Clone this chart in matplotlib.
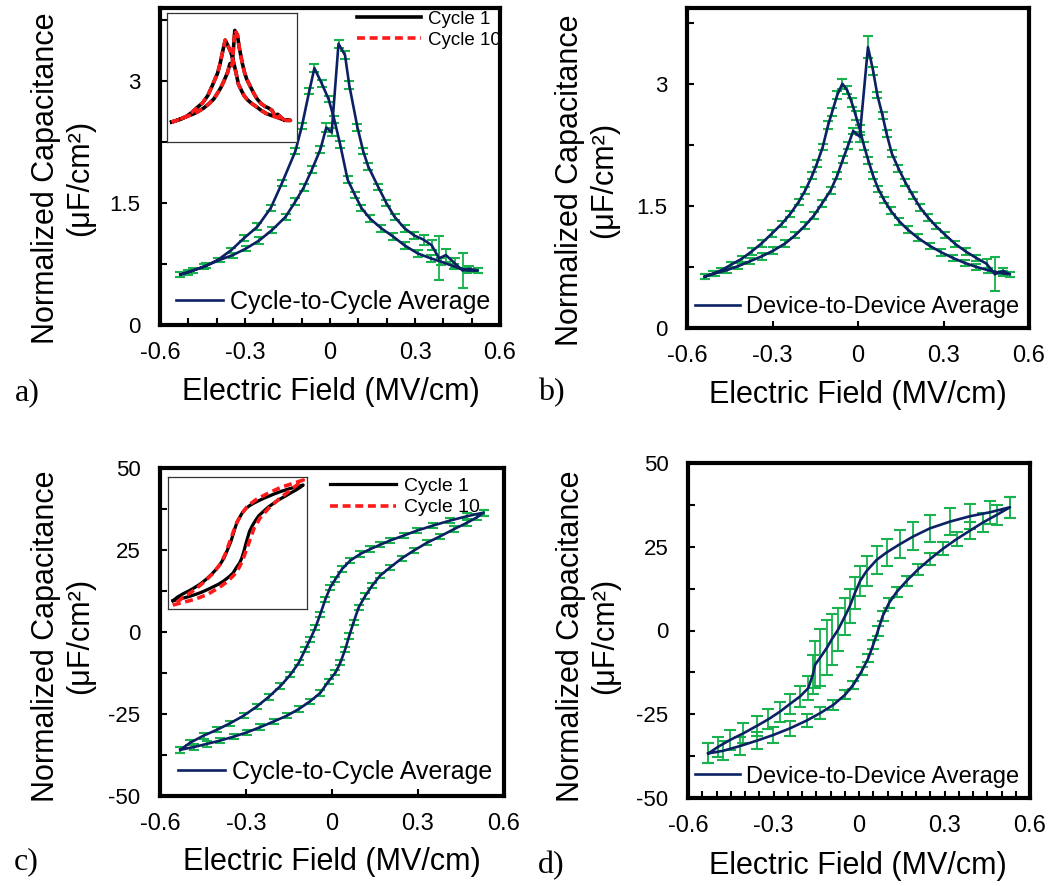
import matplotlib
matplotlib.use("Agg")
import matplotlib.pyplot as plt

plt.rcParams['font.family'] = ['Liberation Sans', 'DejaVu Sans']

# ---------------- data ----------------
# (a) cycle-to-cycle average, C-E butterfly (uF/cm^2)
a_fwd_E = [-0.528, -0.483, -0.437, -0.390, -0.343, -0.297, -0.250, -0.204, -0.157, -0.122,
           -0.093, -0.064, -0.034, -0.013, 0.006, 0.030, 0.053, 0.068, 0.097, 0.117,
           0.135, 0.170, 0.199, 0.228, 0.263, 0.298, 0.330, 0.359, 0.385, 0.409,
           0.440, 0.468, 0.491, 0.522]
a_fwd_C = [0.62, 0.67, 0.73, 0.80, 0.86, 0.94, 1.04, 1.17, 1.33, 1.52,
           1.69, 1.91, 2.16, 2.43, 2.37, 3.46, 3.32, 2.95, 2.43, 2.14,
           1.95, 1.70, 1.50, 1.33, 1.19, 1.10, 1.05, 0.98, 0.82, 0.86,
           0.76, 0.67, 0.69, 0.67]
a_fwd_err = [0.03, 0.03, 0.03, 0.03, 0.03, 0.03, 0.04, 0.04, 0.04, 0.04,
             0.04, 0.04, 0.04, 0.05, 0.05, 0.05, 0.05, 0.05, 0.04, 0.04,
             0.04, 0.04, 0.04, 0.04, 0.04, 0.04, 0.06, 0.06, 0.27, 0.08,
             0.06, 0.21, 0.04, 0.03]
a_rev_E = [0.522, 0.485, 0.438, 0.391, 0.356, 0.310, 0.263, 0.222, 0.181, 0.141,
           0.111, 0.088, 0.062, 0.036, 0.015, -0.005, -0.029, -0.055, -0.073, -0.099,
           -0.122, -0.169, -0.209, -0.256, -0.303, -0.349, -0.396, -0.443, -0.501, -0.528]
a_rev_C = [0.67, 0.67, 0.72, 0.78, 0.82, 0.88, 0.98, 1.09, 1.19, 1.31,
           1.44, 1.60, 1.79, 2.22, 2.53, 2.78, 2.97, 3.16, 2.88, 2.45,
           2.14, 1.75, 1.44, 1.21, 1.07, 0.92, 0.80, 0.72, 0.65, 0.62]
a_rev_err = [0.03, 0.03, 0.03, 0.04, 0.04, 0.04, 0.04, 0.04, 0.04, 0.04,
             0.04, 0.04, 0.04, 0.04, 0.04, 0.04, 0.04, 0.05, 0.04, 0.04,
             0.04, 0.04, 0.04, 0.04, 0.04, 0.03, 0.03, 0.03, 0.03, 0.03]

# (b) device-to-device average
b_fwd_E = [-0.538, -0.502, -0.461, -0.420, -0.379, -0.338, -0.297, -0.255, -0.220, -0.185,
           -0.155, -0.126, -0.096, -0.073, -0.053, -0.035, -0.017, 0.006, 0.035, 0.053,
           0.068, 0.086, 0.100, 0.119, 0.142, 0.166, 0.192, 0.218, 0.245, 0.274,
           0.307, 0.342, 0.378, 0.415, 0.451, 0.480, 0.509, 0.533]
b_fwd_C = [0.63, 0.67, 0.71, 0.76, 0.82, 0.88, 0.95, 1.04, 1.14, 1.26,
           1.38, 1.53, 1.69, 1.87, 2.07, 2.24, 2.42, 2.35, 3.45, 3.16,
           2.86, 2.61, 2.39, 2.14, 1.96, 1.79, 1.63, 1.48, 1.36, 1.25,
           1.14, 1.03, 0.94, 0.86, 0.79, 0.66, 0.70, 0.66]
b_fwd_err = [0.03, 0.03, 0.03, 0.04, 0.04, 0.04, 0.04, 0.04, 0.04, 0.04,
             0.04, 0.04, 0.04, 0.04, 0.04, 0.04, 0.04, 0.06, 0.13, 0.05,
             0.04, 0.04, 0.04, 0.04, 0.04, 0.04, 0.04, 0.04, 0.04, 0.04,
             0.04, 0.04, 0.04, 0.04, 0.06, 0.21, 0.04, 0.03]
b_rev_E = [0.533, 0.509, 0.456, 0.415, 0.374, 0.333, 0.292, 0.251, 0.209, 0.174,
           0.145, 0.115, 0.092, 0.071, 0.053, 0.036, 0.021, 0.007, -0.008, -0.022,
           -0.038, -0.055, -0.073, -0.091, -0.105, -0.124, -0.144, -0.161, -0.185, -0.208,
           -0.238, -0.267, -0.302, -0.338, -0.373, -0.408, -0.444, -0.479, -0.508, -0.538]
b_rev_C = [0.66, 0.67, 0.71, 0.75, 0.80, 0.86, 0.93, 1.01, 1.11, 1.21,
           1.31, 1.44, 1.57, 1.71, 1.87, 2.06, 2.24, 2.43, 2.61, 2.77,
           2.92, 3.00, 2.86, 2.65, 2.49, 2.22, 2.02, 1.87, 1.69, 1.55,
           1.40, 1.28, 1.16, 1.04, 0.94, 0.85, 0.78, 0.71, 0.67, 0.63]
b_rev_err = [0.03, 0.03, 0.03, 0.04, 0.04, 0.04, 0.04, 0.04, 0.04, 0.04,
             0.04, 0.04, 0.04, 0.04, 0.04, 0.04, 0.05, 0.06, 0.05, 0.05,
             0.05, 0.06, 0.05, 0.05, 0.05, 0.04, 0.04, 0.04, 0.04, 0.04,
             0.04, 0.04, 0.04, 0.04, 0.04, 0.04, 0.03, 0.03, 0.03, 0.03]

# (c) cycle-to-cycle average, hysteresis loop
c_fwd_E = [-0.529, -0.483, -0.436, -0.390, -0.343, -0.297, -0.250, -0.204, -0.157, -0.116,
           -0.076, -0.041, -0.012, 0.012, 0.029, 0.046, 0.060, 0.075, 0.093, 0.116,
           0.140, 0.168, 0.203, 0.244, 0.285, 0.331, 0.378, 0.424, 0.471, 0.506, 0.529]
c_fwd_C = [-35.9, -35.1, -34.1, -33.1, -31.9, -30.6, -29.0, -27.3, -25.5, -23.5,
           -21.1, -18.6, -15.0, -12.4, -9.4, -5.3, -1.2, 2.9, 7.5, 11.0,
           14.1, 17.2, 19.7, 22.5, 24.8, 27.2, 29.2, 31.3, 33.3, 35.0, 36.4]
c_fwd_err = [0.9, 0.9, 0.9, 0.8, 0.8, 0.8, 0.8, 0.8, 0.8, 0.8,
             0.8, 0.8, 0.8, 0.8, 0.8, 0.8, 0.8, 0.8, 0.8, 0.8,
             0.8, 0.8, 0.8, 0.8, 0.8, 0.8, 0.8, 0.9, 0.9, 0.9, 0.9]
c_rev_E = [0.529, 0.471, 0.413, 0.354, 0.296, 0.250, 0.203, 0.168, 0.134, 0.099,
           0.064, 0.035, 0.012, -0.006, -0.023, -0.041, -0.058, -0.076, -0.093, -0.116,
           -0.145, -0.180, -0.221, -0.262, -0.308, -0.355, -0.401, -0.448, -0.494, -0.529]
c_rev_C = [36.4, 35.3, 34.0, 32.5, 30.9, 29.4, 27.9, 26.6, 25.3, 23.8,
           21.8, 19.2, 16.1, 13.6, 10.0, 5.4, 1.3, -2.2, -5.3, -9.4,
           -13.0, -16.5, -19.8, -22.7, -25.5, -27.8, -29.8, -31.6, -33.7, -35.9]
c_rev_err = [0.9, 0.9, 0.9, 0.8, 0.8, 0.8, 0.8, 0.8, 0.8, 0.8,
             0.8, 0.8, 0.8, 0.8, 0.8, 0.8, 0.8, 0.8, 0.8, 0.8,
             0.8, 0.8, 0.8, 0.8, 0.8, 0.8, 0.8, 0.9, 0.9, 0.9]

# (c) inset, cycle 10 loop
c10_fwd_E = [-0.53, -0.45, -0.35, -0.25, -0.15, -0.08, -0.03, 0.01, 0.04, 0.07,
             0.10, 0.13, 0.18, 0.25, 0.33, 0.43, 0.53]
c10_fwd_C = [-38.6, -37.0, -35.0, -32.0, -27.5, -23.5, -19.5, -15.0, -10.0, -3.5,
             3.0, 9.5, 16.0, 22.0, 27.5, 33.5, 39.5]
c10_rev_E = [0.53, 0.45, 0.35, 0.25, 0.15, 0.08, 0.03, -0.01, -0.04, -0.07,
             -0.10, -0.14, -0.20, -0.28, -0.36, -0.45, -0.53]
c10_rev_C = [39.5, 37.5, 35.0, 31.5, 27.5, 23.5, 18.5, 13.0, 7.0, 0.5,
             -6.0, -12.5, -18.5, -24.5, -29.5, -34.0, -38.6]

# (d) device-to-device average
d_fwd_E = [-0.529, -0.476, -0.418, -0.359, -0.301, -0.242, -0.184, -0.137, -0.090, -0.049,
           -0.020, 0.009, 0.033, 0.050, 0.066, 0.083, 0.106, 0.132, 0.167, 0.208,
           0.249, 0.296, 0.343, 0.389, 0.436, 0.483, 0.530]
d_fwd_C = [-36.7, -35.9, -34.5, -32.9, -31.2, -29.2, -26.9, -24.7, -22.2, -19.2,
           -16.2, -12.2, -8.2, -4.2, -0.2, 4.3, 8.3, 11.5, 14.8, 18.3,
           21.3, 24.5, 27.3, 29.8, 32.3, 34.5, 36.8]
d_fwd_err = [3.0, 2.8, 2.6, 2.5, 2.4, 2.2, 2.0, 1.8, 1.5, 1.3,
             1.2, 1.2, 1.2, 1.3, 1.5, 1.5, 1.5, 1.5, 1.5, 1.6,
             1.8, 2.0, 2.2, 2.5, 2.8, 3.0, 3.2]
d_rev_E = [0.530, 0.460, 0.389, 0.319, 0.249, 0.191, 0.144, 0.097, 0.062, 0.027,
           0.004, -0.014, -0.032, -0.049, -0.073, -0.096, -0.113, -0.137, -0.154, -0.162,
           -0.178, -0.207, -0.242, -0.277, -0.318, -0.359, -0.406, -0.453, -0.494, -0.529]
d_rev_C = [36.8, 35.3, 34.1, 32.5, 30.5, 28.1, 25.8, 23.3, 21.1, 17.8,
           14.8, 11.3, 7.3, 4.3, 0.3, -2.7, -5.2, -8.2, -10.2, -13.2,
           -17.2, -19.7, -21.9, -24.2, -26.5, -28.5, -30.7, -32.7, -34.7, -36.7]
d_rev_err = [3.2, 3.5, 3.7, 4.0, 4.0, 4.2, 4.2, 4.0, 4.2, 4.4,
             4.5, 4.8, 5.0, 5.5, 6.3, 7.5, 8.2, 8.5, 7.0, 5.8,
             3.5, 3.0, 3.0, 3.0, 3.0, 3.0, 3.0, 3.0, 3.0, 3.0]

x_ticks = [-0.6, -0.3, 0, 0.3, 0.6]
x_ticklabels = ['-0.6', '-0.3', '0', '0.3', '0.6']
cap_ticks = [0, 1.5, 3]
cap_ticklabels = ['0', '1.5', '3']
pol_ticks = [-50, -25, 0, 25, 50]
pol_ticklabels = ['-50', '-25', '0', '25', '50']

NAVY = '#0B2163'
GREEN = '#19B24E'
YLABEL = 'Normalized Capacitance\n(\u03bcF/cm\u00b2)'
XLABEL = 'Electric Field (MV/cm)'

W, H = 1051, 886
fig = plt.figure(figsize=(W / 100, H / 100), dpi=100)


def box(l, t, r, b):
    return fig.add_axes([l / W, 1 - b / H, (r - l) / W, (b - t) / H])


def style(ax, ylim, yticks, yticklabels, yminor, xminor):
    ax.set_xlim(-0.6, 0.6)
    ax.set_ylim(*ylim)
    ax.set_xticks(x_ticks)
    ax.set_xticklabels(x_ticklabels, fontsize=17)
    ax.set_xticks(xminor, minor=True)
    ax.set_yticks(yticks)
    ax.set_yticklabels(yticklabels, fontsize=16)
    ax.set_yticks(yminor, minor=True)
    for s in ax.spines.values():
        s.set_linewidth(3.0)
        s.set_zorder(6)
    ax.tick_params(which='both', direction='in', length=5, width=1.5,
                   top=False, right=False)
    ax.tick_params(axis='x', which='major', pad=12)
    ax.tick_params(axis='y', which='major', pad=14)


def draw_loop(ax, E1, C1, e1, E2, C2, e2, label, capsize):
    for E, C, e in ((E1, C1, e1), (E2, C2, e2)):
        ax.errorbar(E, C, yerr=e, fmt='none', ecolor=GREEN, elinewidth=1.3,
                    capsize=capsize, capthick=1.5, zorder=2)
    ax.plot(E1 + E2, C1 + C2, color=NAVY, lw=1.9, zorder=3, label=label)


def avg_legend(ax, x0, yc, fs):
    ax.legend(loc='center left', bbox_to_anchor=(x0, yc), frameon=False,
              fontsize=fs, handlelength=1.9, handletextpad=0.25,
              borderpad=0, borderaxespad=0)


def cycle_legend(ax, handles, x0, yc, fs):
    leg = ax.legend(handles=handles, labels=['Cycle 1', 'Cycle 10'],
                    loc='center left', bbox_to_anchor=(x0, yc), frameon=False,
                    fontsize=fs, handlelength=3.4, handletextpad=0.4,
                    labelspacing=0.2, borderpad=0, borderaxespad=0)
    return leg


def inset(l, t, r, b, xlim, ylim):
    ai = box(l, t, r, b)
    ai.set_xlim(*xlim)
    ai.set_ylim(*ylim)
    ai.set_xticks([])
    ai.set_yticks([])
    for s in ai.spines.values():
        s.set_linewidth(0.9)
        s.set_color('#333333')
    return ai


# ---- (a) ----
ax_a = box(160, 8, 500, 325)
draw_loop(ax_a, a_fwd_E, a_fwd_C, a_fwd_err, a_rev_E, a_rev_C, a_rev_err,
          'Cycle-to-Cycle Average', 3.6)
style(ax_a, (0, 3.9), cap_ticks, cap_ticklabels, [0.75, 2.25, 3.75],
      [-0.5, -0.4, -0.2, -0.1, 0.1, 0.2, 0.4, 0.5])
avg_legend(ax_a, 0.047, 0.073, 18)
leg_a = ax_a.get_legend()

in_a = inset(167, 13, 297, 142, (-0.57, 0.58), (0, 4.0))
h1, = in_a.plot(a_fwd_E + a_rev_E, a_fwd_C + a_rev_C, color='black', lw=2.6)
h2, = in_a.plot(a_fwd_E + a_rev_E, a_fwd_C + a_rev_C, color='#FF1A1A', lw=2.6,
                dashes=(2.2, 1.3))
ax_a.add_artist(leg_a)
cycle_legend(ax_a, [h1, h2], 0.579, 0.931, 13.5)

# ---- (b) ----
ax_b = box(687, 8, 1029, 328)
draw_loop(ax_b, b_fwd_E, b_fwd_C, b_fwd_err, b_rev_E, b_rev_C, b_rev_err,
          'Device-to-Device Average', 3.6)
style(ax_b, (0, 3.93), cap_ticks, cap_ticklabels, [0.75, 2.25, 3.75], [])
avg_legend(ax_b, 0.023, 0.066, 17)

# ---- (c) ----
ax_c = box(160, 468, 504, 796)
draw_loop(ax_c, c_fwd_E, c_fwd_C, c_fwd_err, c_rev_E, c_rev_C, c_rev_err,
          'Cycle-to-Cycle Average', 3.6)
style(ax_c, (-50, 50), pol_ticks, pol_ticklabels, [-37.5, -12.5, 12.5, 37.5], [])
avg_legend(ax_c, 0.052, 0.074, 18)
leg_c = ax_c.get_legend()

in_c = inset(168, 477, 307, 609, (-0.57, 0.56), (-41.1, 41.4))
k1, = in_c.plot(c_fwd_E + c_rev_E, c_fwd_C + c_rev_C, color='black', lw=2.3)
k2, = in_c.plot(c10_fwd_E + c10_rev_E, c10_fwd_C + c10_rev_C, color='#FF1A1A',
                lw=2.6, dashes=(2.2, 1.3))
ax_c.add_artist(leg_c)
cycle_legend(ax_c, [k1, k2], 0.494, 0.912, 14)

# ---- (d) ----
ax_d = box(688, 463, 1030, 798)
draw_loop(ax_d, d_fwd_E, d_fwd_C, d_fwd_err, d_rev_E, d_rev_C, d_rev_err,
          'Device-to-Device Average', 4.3)
d_minor = [-0.55, -0.5, -0.45, -0.4, -0.35, -0.25, -0.2, -0.15, -0.1, -0.05,
           0.05, 0.1, 0.15, 0.2, 0.25, 0.35, 0.4, 0.45, 0.5, 0.55]
style(ax_d, (-50, 50), pol_ticks, pol_ticklabels, [-37.5, -12.5, 12.5, 37.5], d_minor)
avg_legend(ax_d, 0.02, 0.064, 17)

# ---- axis titles and panel letters ----
def ftext(x, y, s, **kw):
    fig.text(x / W, 1 - y / H, s, **kw)


for (xc, yc) in [(63, 178), (587, 180), (63, 636), (588, 636)]:
    ftext(xc, yc, YLABEL, rotation=90, ha='center', va='center',
          fontsize=22, linespacing=1.2, multialignment='center')
for (xc, yc) in [(331, 392), (858, 395), (332, 862), (858, 866)]:
    ftext(xc, yc, XLABEL, ha='center', va='center', fontsize=22)
for (xc, yc, s) in [(27, 393, 'a)'), (551, 393, 'b)'), (26, 862, 'c)'), (551, 866, 'd)')]:
    ftext(xc, yc, s, ha='center', va='center', fontsize=23,
          family=['Liberation Serif', 'DejaVu Serif'])

fig.savefig('out.png', dpi=100)
